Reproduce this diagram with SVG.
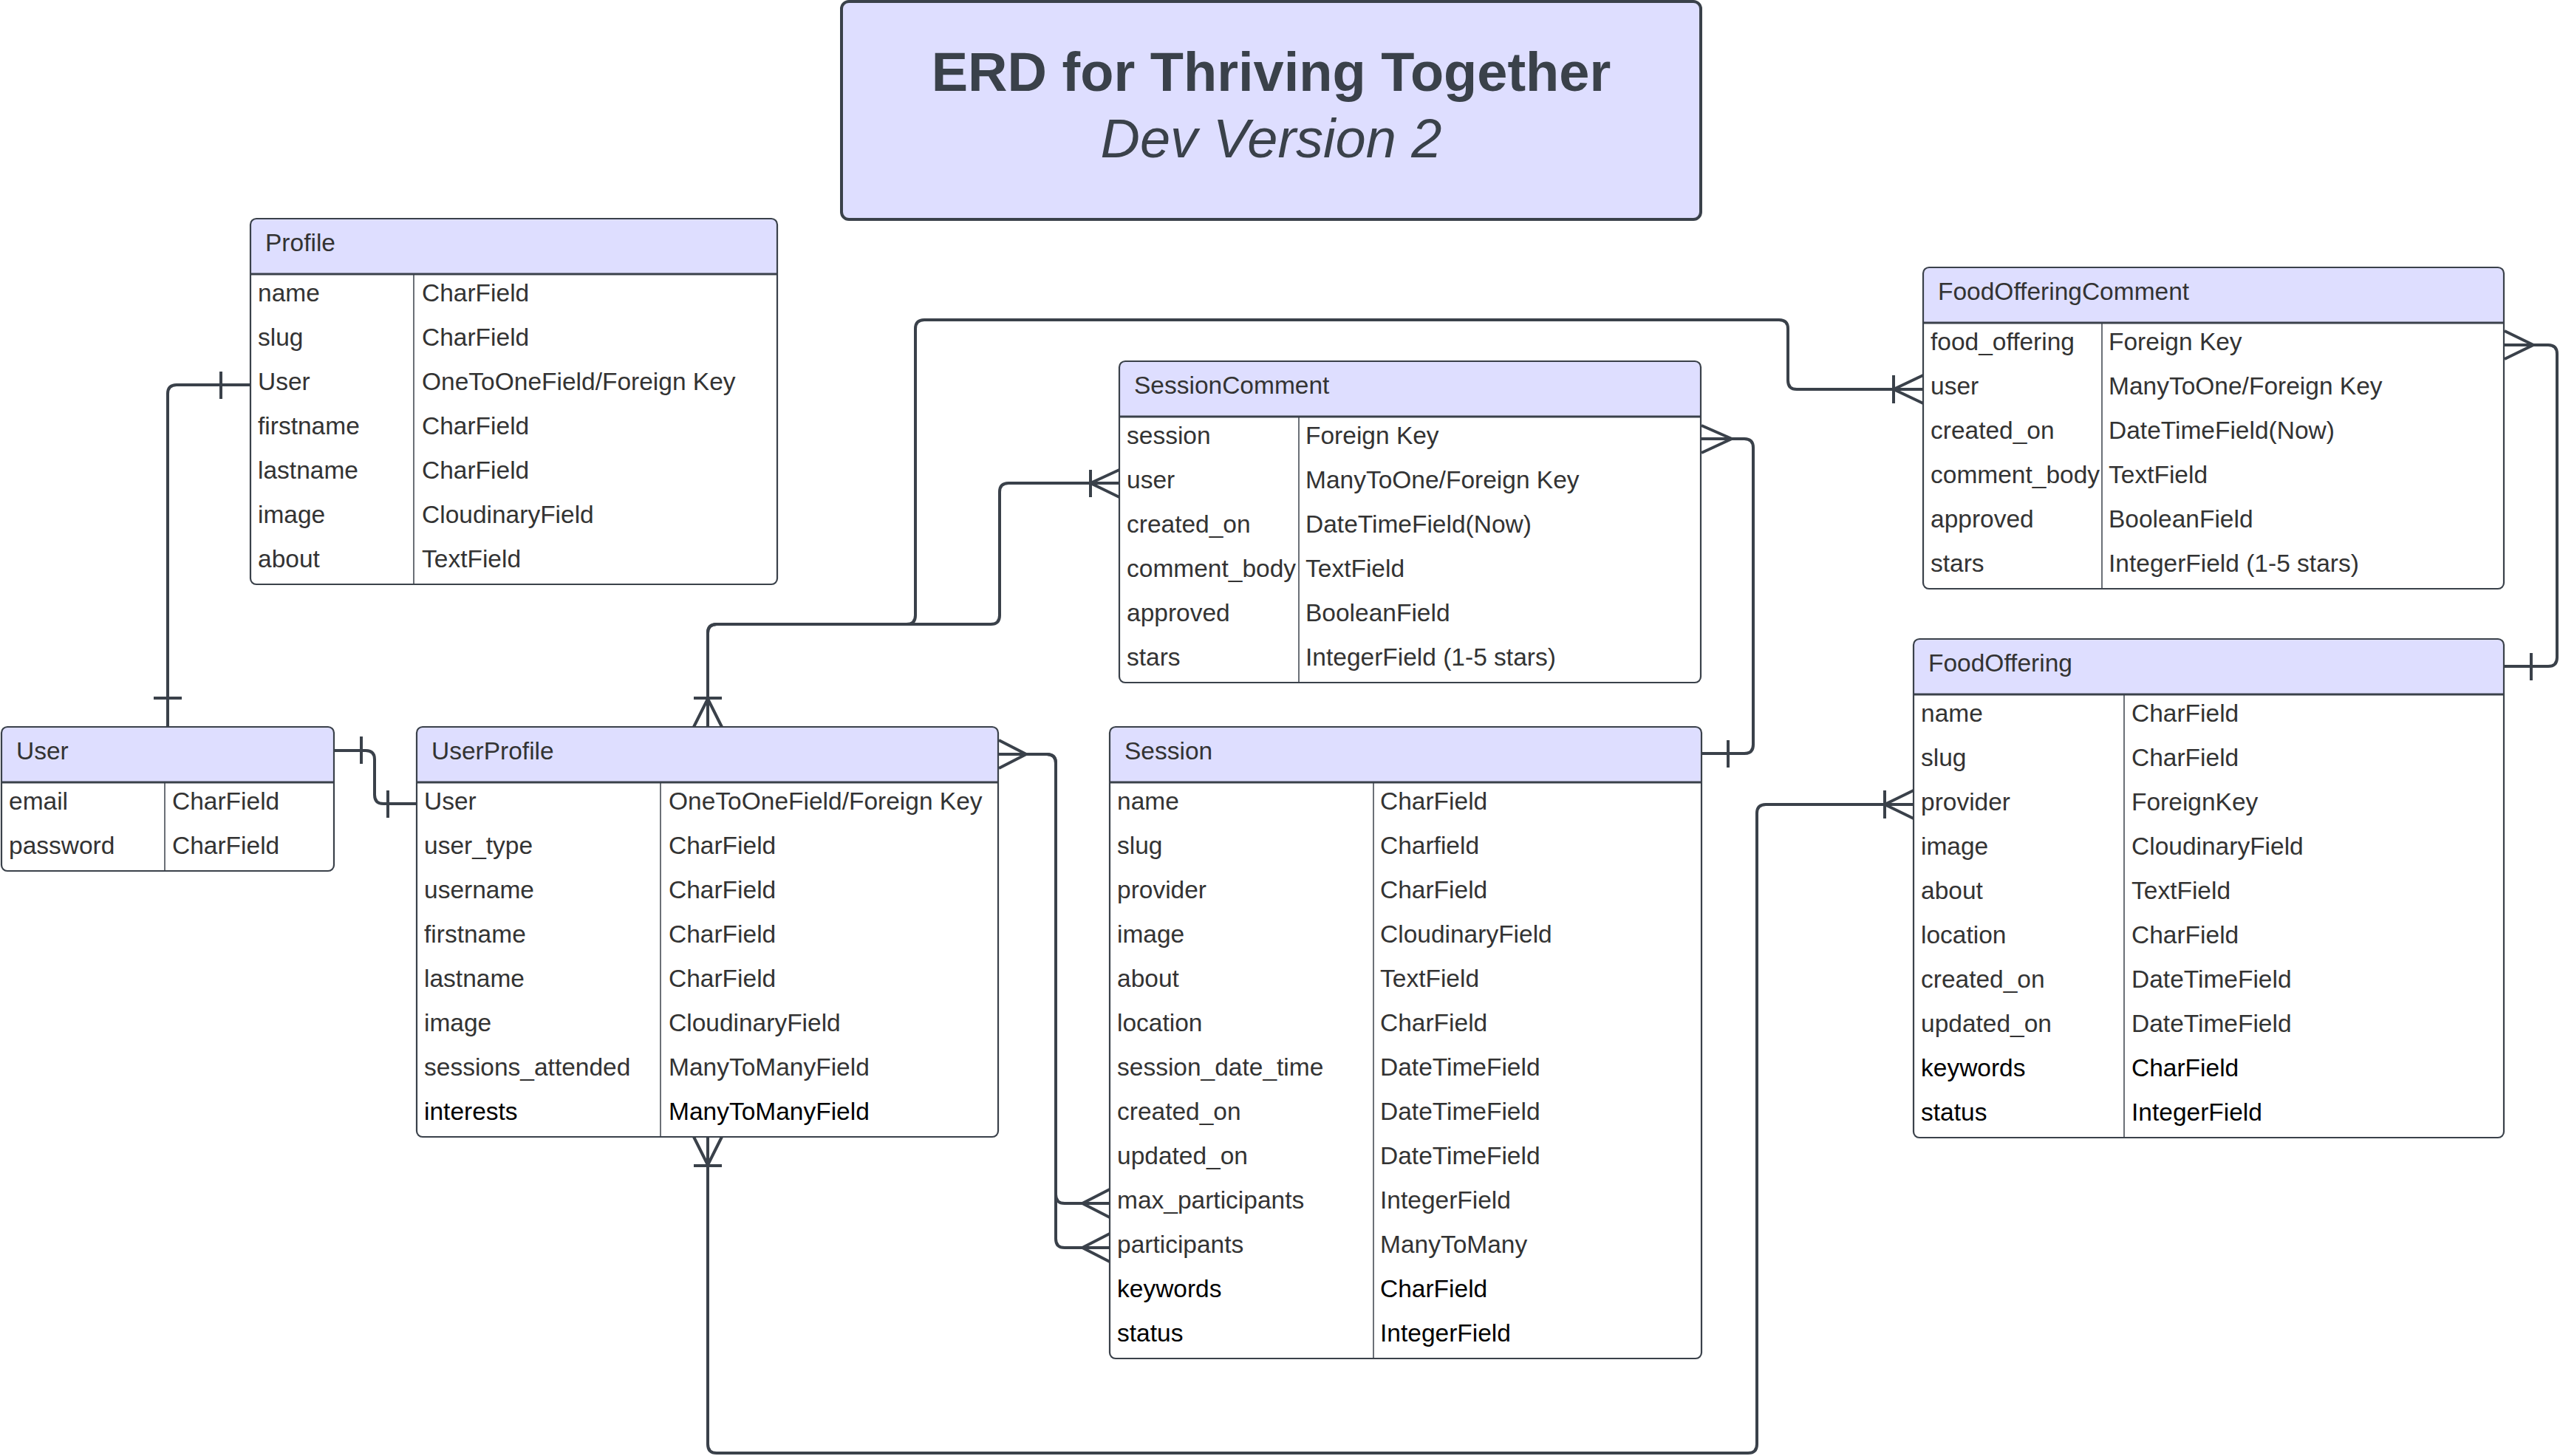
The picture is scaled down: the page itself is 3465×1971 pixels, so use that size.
<svg xmlns="http://www.w3.org/2000/svg" width="3465" height="1971" viewBox="0 0 3465 1971">
<style>
.bg{fill:#ffffff;stroke:none}
.hdr{fill:#dedeff;stroke:none}
.out{fill:none;stroke:#3a414a;stroke-width:2.2}
.hl{stroke:#3a414a;stroke-width:3}
.cl{stroke:#3a414a;stroke-width:1.5}
.t{font-family:"Liberation Sans",Arial,sans-serif;font-size:33.5px;fill:#333333}
.k{fill:#000000}
.c{fill:none;stroke:#3a414a;stroke-width:4;stroke-linecap:butt}
.ttl{font-family:"Liberation Sans",Arial,sans-serif;font-size:74px;fill:#3a414a;text-anchor:middle}
</style>
<rect x="0" y="0" width="3465" height="1971" fill="#ffffff"/>

<g id="connectors">
  <!-- Profile.User - User -->
  <path class="c" d="M 339 521 H 239 Q 227 521 227 533 V 984"/>
  <path class="c" d="M 299 503 V 540 M 208 945 H 246"/>
  <!-- User - UserProfile.User -->
  <path class="c" d="M 452 1016 H 495 Q 507 1016 507 1028 V 1076 Q 507 1088 519 1088 H 564"/>
  <path class="c" d="M 489 997 V 1034 M 525 1070 V 1107"/>
  <!-- UserProfile top - FoodOfferingComment.user -->
  <path class="c" d="M 958 984 V 857 Q 958 845 970 845 H 1227 Q 1239 845 1239 833 V 445 Q 1239 433 1251 433 H 2408 Q 2420 433 2420 445 V 515 Q 2420 527 2432 527 H 2603"/>
  <path class="c" d="M 2563 527 L 2603 508 M 2563 527 L 2603 546 M 2563 508 V 546"/>
  <!-- UserProfile top - SessionComment.user -->
  <path class="c" d="M 958 984 V 857 Q 958 845 970 845 H 1341 Q 1353 845 1353 833 V 666 Q 1353 654 1365 654 H 1515"/>
  <path class="c" d="M 1476 654 L 1515 636 M 1476 654 L 1515 673 M 1476 636 V 673"/>
  <path class="c" d="M 958 946 L 939 984 M 958 946 L 977 984 M 939 945 H 977"/>
  <!-- SessionComment.session - Session -->
  <path class="c" d="M 2302 594 H 2361 Q 2373 594 2373 606 V 1008 Q 2373 1020 2361 1020 H 2303"/>
  <path class="c" d="M 2344 594 L 2303 576 M 2344 594 L 2303 613 M 2339 1002 V 1039"/>
  <!-- FoodOfferingComment.food_offering - FoodOffering -->
  <path class="c" d="M 3389 467 H 3449 Q 3461 467 3461 479 V 890 Q 3461 902 3449 902 H 3389"/>
  <path class="c" d="M 3429 467 L 3390 448 M 3429 467 L 3390 486 M 3426 884 V 921"/>
  <!-- UserProfile - Session.max_participants / participants -->
  <path class="c" d="M 1351 1021 H 1417 Q 1429 1021 1429 1033 V 1617 Q 1429 1629 1441 1629 H 1502"/>
  <path class="c" d="M 1351 1021 H 1417 Q 1429 1021 1429 1033 V 1677 Q 1429 1689 1441 1689 H 1502"/>
  <path class="c" d="M 1389 1021 L 1352 1002 M 1389 1021 L 1352 1040"/>
  <path class="c" d="M 1465 1629 L 1502 1610 M 1465 1629 L 1502 1648 M 1465 1689 L 1502 1670 M 1465 1689 L 1502 1708"/>
  <!-- UserProfile bottom - FoodOffering.provider -->
  <path class="c" d="M 958 1539 V 1955 Q 958 1967 970 1967 H 2366 Q 2378 1967 2378 1955 V 1101 Q 2378 1089 2390 1089 H 2590"/>
  <path class="c" d="M 958 1577 L 939 1539 M 958 1577 L 977 1539 M 939 1578 H 977"/>
  <path class="c" d="M 2551 1089 L 2590 1070 M 2551 1089 L 2590 1108 M 2551 1070 V 1108"/>
</g>

<g id="title">
  <rect x="1139" y="2" width="1163" height="295" rx="10" fill="#dedeff" stroke="#3a414a" stroke-width="4"/>
  <text class="ttl" x="1720.5" y="123" font-weight="bold">ERD for Thriving Together</text>
  <text class="ttl" x="1720.5" y="213" font-style="italic">Dev Version 2</text>
</g>

<g id="Profile" transform="translate(339,296)">
  <rect class="bg" x="0" y="0" width="713" height="495" rx="8"/>
  <path class="hdr" d="M 0 75 V 8 Q 0 0 8 0 H 705 Q 713 0 713 8 V 75 Z"/>
  <line class="hl" x1="0" y1="75" x2="713" y2="75"/>
  <line class="cl" x1="221" y1="75" x2="221" y2="495"/>
  <rect class="out" x="0" y="0" width="713" height="495" rx="8"/>
  <text class="t" x="20" y="44">Profile</text>
  <text class="t" x="10" y="112">name</text><text class="t" x="232" y="112">CharField</text>
  <text class="t" x="10" y="172">slug</text><text class="t" x="232" y="172">CharField</text>
  <text class="t" x="10" y="232">User</text><text class="t" x="232" y="232">OneToOneField/Foreign Key</text>
  <text class="t" x="10" y="292">firstname</text><text class="t" x="232" y="292">CharField</text>
  <text class="t" x="10" y="352">lastname</text><text class="t" x="232" y="352">CharField</text>
  <text class="t" x="10" y="412">image</text><text class="t" x="232" y="412">CloudinaryField</text>
  <text class="t" x="10" y="472">about</text><text class="t" x="232" y="472">TextField</text>
</g>

<g id="User" transform="translate(2,984)">
  <rect class="bg" x="0" y="0" width="450" height="195" rx="8"/>
  <path class="hdr" d="M 0 75 V 8 Q 0 0 8 0 H 442 Q 450 0 450 8 V 75 Z"/>
  <line class="hl" x1="0" y1="75" x2="450" y2="75"/>
  <line class="cl" x1="221" y1="75" x2="221" y2="195"/>
  <rect class="out" x="0" y="0" width="450" height="195" rx="8"/>
  <text class="t" x="20" y="44">User</text>
  <text class="t" x="10" y="112">email</text><text class="t" x="231" y="112">CharField</text>
  <text class="t" x="10" y="172">password</text><text class="t" x="231" y="172">CharField</text>
</g>

<g id="UserProfile" transform="translate(564,984)">
  <rect class="bg" x="0" y="0" width="787" height="555" rx="8"/>
  <path class="hdr" d="M 0 75 V 8 Q 0 0 8 0 H 779 Q 787 0 787 8 V 75 Z"/>
  <line class="hl" x1="0" y1="75" x2="787" y2="75"/>
  <line class="cl" x1="330" y1="75" x2="330" y2="555"/>
  <rect class="out" x="0" y="0" width="787" height="555" rx="8"/>
  <text class="t" x="20" y="44">UserProfile</text>
  <text class="t" x="10" y="112">User</text><text class="t" x="341" y="112">OneToOneField/Foreign Key</text>
  <text class="t" x="10" y="172">user_type</text><text class="t" x="341" y="172">CharField</text>
  <text class="t" x="10" y="232">username</text><text class="t" x="341" y="232">CharField</text>
  <text class="t" x="10" y="292">firstname</text><text class="t" x="341" y="292">CharField</text>
  <text class="t" x="10" y="352">lastname</text><text class="t" x="341" y="352">CharField</text>
  <text class="t" x="10" y="412">image</text><text class="t" x="341" y="412">CloudinaryField</text>
  <text class="t" x="10" y="472">sessions_attended</text><text class="t" x="341" y="472">ManyToManyField</text>
  <text class="t k" x="10" y="532">interests</text><text class="t k" x="341" y="532">ManyToManyField</text>
</g>

<g id="SessionComment" transform="translate(1515,489)">
  <rect class="bg" x="0" y="0" width="787" height="435" rx="8"/>
  <path class="hdr" d="M 0 75 V 8 Q 0 0 8 0 H 779 Q 787 0 787 8 V 75 Z"/>
  <line class="hl" x1="0" y1="75" x2="787" y2="75"/>
  <line class="cl" x1="243" y1="75" x2="243" y2="435"/>
  <rect class="out" x="0" y="0" width="787" height="435" rx="8"/>
  <text class="t" x="20" y="44">SessionComment</text>
  <text class="t" x="10" y="112">session</text><text class="t" x="252" y="112">Foreign Key</text>
  <text class="t" x="10" y="172">user</text><text class="t" x="252" y="172">ManyToOne/Foreign Key</text>
  <text class="t" x="10" y="232">created_on</text><text class="t" x="252" y="232">DateTimeField(Now)</text>
  <text class="t" x="10" y="292">comment_body</text><text class="t" x="252" y="292">TextField</text>
  <text class="t" x="10" y="352">approved</text><text class="t" x="252" y="352">BooleanField</text>
  <text class="t" x="10" y="412">stars</text><text class="t" x="252" y="412">IntegerField (1-5 stars)</text>
</g>

<g id="Session" transform="translate(1502,984)">
  <rect class="bg" x="0" y="0" width="801" height="855" rx="8"/>
  <path class="hdr" d="M 0 75 V 8 Q 0 0 8 0 H 793 Q 801 0 801 8 V 75 Z"/>
  <line class="hl" x1="0" y1="75" x2="801" y2="75"/>
  <line class="cl" x1="357" y1="75" x2="357" y2="855"/>
  <rect class="out" x="0" y="0" width="801" height="855" rx="8"/>
  <text class="t" x="20" y="44">Session</text>
  <text class="t" x="10" y="112">name</text><text class="t" x="366" y="112">CharField</text>
  <text class="t" x="10" y="172">slug</text><text class="t" x="366" y="172">Charfield</text>
  <text class="t" x="10" y="232">provider</text><text class="t" x="366" y="232">CharField</text>
  <text class="t" x="10" y="292">image</text><text class="t" x="366" y="292">CloudinaryField</text>
  <text class="t" x="10" y="352">about</text><text class="t" x="366" y="352">TextField</text>
  <text class="t" x="10" y="412">location</text><text class="t" x="366" y="412">CharField</text>
  <text class="t" x="10" y="472">session_date_time</text><text class="t" x="366" y="472">DateTimeField</text>
  <text class="t" x="10" y="532">created_on</text><text class="t" x="366" y="532">DateTimeField</text>
  <text class="t" x="10" y="592">updated_on</text><text class="t" x="366" y="592">DateTimeField</text>
  <text class="t" x="10" y="652">max_participants</text><text class="t" x="366" y="652">IntegerField</text>
  <text class="t" x="10" y="712">participants</text><text class="t" x="366" y="712">ManyToMany</text>
  <text class="t k" x="10" y="772">keywords</text><text class="t k" x="366" y="772">CharField</text>
  <text class="t k" x="10" y="832">status</text><text class="t k" x="366" y="832">IntegerField</text>
</g>

<g id="FoodOfferingComment" transform="translate(2603,362)">
  <rect class="bg" x="0" y="0" width="786" height="435" rx="8"/>
  <path class="hdr" d="M 0 75 V 8 Q 0 0 8 0 H 778 Q 786 0 786 8 V 75 Z"/>
  <line class="hl" x1="0" y1="75" x2="786" y2="75"/>
  <line class="cl" x1="242" y1="75" x2="242" y2="435"/>
  <rect class="out" x="0" y="0" width="786" height="435" rx="8"/>
  <text class="t" x="20" y="44">FoodOfferingComment</text>
  <text class="t" x="10" y="112">food_offering</text><text class="t" x="251" y="112">Foreign Key</text>
  <text class="t" x="10" y="172">user</text><text class="t" x="251" y="172">ManyToOne/Foreign Key</text>
  <text class="t" x="10" y="232">created_on</text><text class="t" x="251" y="232">DateTimeField(Now)</text>
  <text class="t" x="10" y="292">comment_body</text><text class="t" x="251" y="292">TextField</text>
  <text class="t" x="10" y="352">approved</text><text class="t" x="251" y="352">BooleanField</text>
  <text class="t" x="10" y="412">stars</text><text class="t" x="251" y="412">IntegerField (1-5 stars)</text>
</g>

<g id="FoodOffering" transform="translate(2590,865)">
  <rect class="bg" x="0" y="0" width="799" height="675" rx="8"/>
  <path class="hdr" d="M 0 75 V 8 Q 0 0 8 0 H 791 Q 799 0 799 8 V 75 Z"/>
  <line class="hl" x1="0" y1="75" x2="799" y2="75"/>
  <line class="cl" x1="285" y1="75" x2="285" y2="675"/>
  <rect class="out" x="0" y="0" width="799" height="675" rx="8"/>
  <text class="t" x="20" y="44">FoodOffering</text>
  <text class="t" x="10" y="112">name</text><text class="t" x="295" y="112">CharField</text>
  <text class="t" x="10" y="172">slug</text><text class="t" x="295" y="172">CharField</text>
  <text class="t" x="10" y="232">provider</text><text class="t" x="295" y="232">ForeignKey</text>
  <text class="t" x="10" y="292">image</text><text class="t" x="295" y="292">CloudinaryField</text>
  <text class="t" x="10" y="352">about</text><text class="t" x="295" y="352">TextField</text>
  <text class="t" x="10" y="412">location</text><text class="t" x="295" y="412">CharField</text>
  <text class="t" x="10" y="472">created_on</text><text class="t" x="295" y="472">DateTimeField</text>
  <text class="t" x="10" y="532">updated_on</text><text class="t" x="295" y="532">DateTimeField</text>
  <text class="t k" x="10" y="592">keywords</text><text class="t k" x="295" y="592">CharField</text>
  <text class="t k" x="10" y="652">status</text><text class="t k" x="295" y="652">IntegerField</text>
</g>
</svg>
